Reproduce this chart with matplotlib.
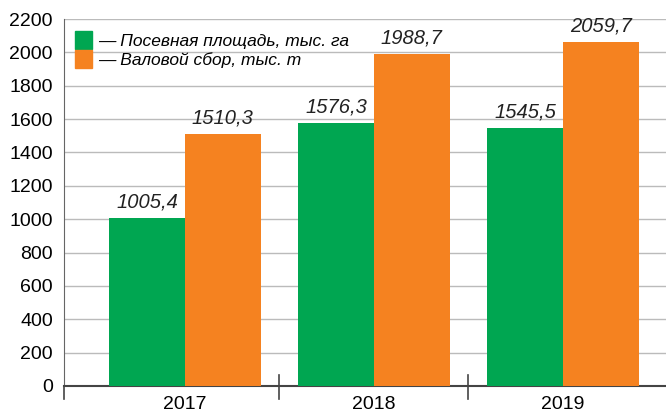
import numpy as np
import matplotlib
matplotlib.use('Agg')
from matplotlib import pyplot as plt
from matplotlib.patches import Patch

years = ['2017', '2018', '2019']
area = [1005.4, 1576.3, 1545.5]
harvest = [1510.3, 1988.7, 2059.7]
labels = ['— Посевная площадь, тыс. га', '— Валовой сбор, тыс. т']
yticks = list(range(0, 2201, 200))

green = '#00a651'
orange = '#f58220'
font = ['Liberation Sans', 'DejaVu Sans']

fig = plt.figure(figsize=(6.66, 4.13), dpi=100)
ax = fig.add_axes([64 / 666, 27 / 413, 602 / 666, 367 / 413])

x = np.arange(len(years))
w = 0.4
b1 = ax.bar(x - w / 2, area, w, color=green, zorder=3)
b2 = ax.bar(x + w / 2, harvest, w, color=orange, zorder=3)

for bars in (b1, b2):
    for bar in bars:
        h = bar.get_height()
        ax.annotate(f'{h:.1f}'.replace('.', ','),
                    (bar.get_x() + bar.get_width() / 2, h),
                    xytext=(0, 5), textcoords='offset points',
                    ha='center', va='bottom', fontsize=14.5, style='italic',
                    family=font, color='#222222')

ax.set_ylim(0, 2200)
ax.set_xlim(-0.64, 2.545)
ax.set_yticks(yticks)
ax.set_yticklabels([str(t) for t in yticks], family=font, fontsize=14)
ax.yaxis.grid(True, color='#bbbbbb', linewidth=1, zorder=0)
ax.tick_params(axis='y', length=0, pad=8)

ax.set_xticks(x)
ax.set_xticklabels(years, family=font, fontsize=14)
ax.tick_params(axis='x', length=0, pad=7)
for xs in (0.5, 1.5):
    ax.plot([xs, xs], [-0.035, 0.03], transform=ax.get_xaxis_transform(),
            color='#444444', linewidth=1.2, clip_on=False)
ax.plot([-0.64, -0.64], [-0.035, 0.0], transform=ax.get_xaxis_transform(),
        color='#444444', linewidth=1.2, clip_on=False)

for s in ('top', 'right'):
    ax.spines[s].set_visible(False)
ax.spines['left'].set_color('#666666')
ax.spines['bottom'].set_color('#444444')
ax.spines['bottom'].set_linewidth(1.5)

handles = [Patch(color=green), Patch(color=orange)]
leg = ax.legend(handles, labels, loc='upper left', bbox_to_anchor=(0.018, 0.968),
                frameon=False, borderpad=0, borderaxespad=0,
                handlelength=1.0, handleheight=1.2,
                handletextpad=0.35, labelspacing=0.1,
                prop={'family': font, 'size': 12.5, 'style': 'italic'})

fig.savefig('out.png', dpi=100)
